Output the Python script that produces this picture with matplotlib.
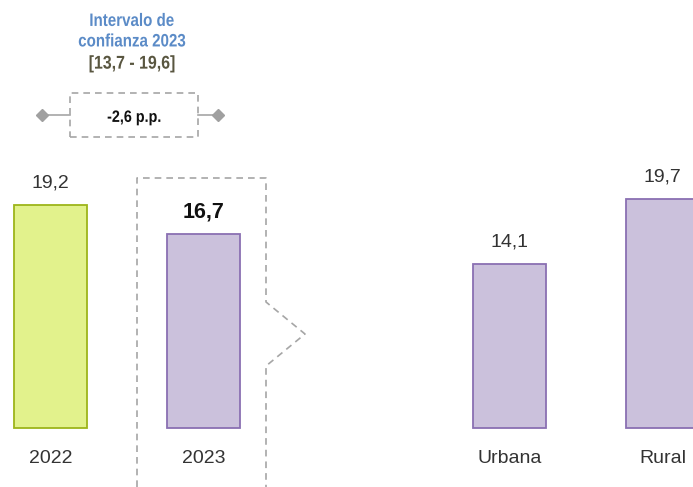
import numpy as np
import matplotlib
matplotlib.use('Agg')
import matplotlib.pyplot as plt
from matplotlib.lines import Line2D
from matplotlib.patches import Rectangle, PathPatch
from matplotlib.textpath import TextPath
from matplotlib.font_manager import FontProperties
from matplotlib.transforms import Affine2D

# data
categories = ['2022', '2023', 'Urbana', 'Rural']
values = [19.2, 16.7, 14.1, 19.7]
value_labels = ['19,2', '16,7', '14,1', '19,7']
positions = [0, 1, 3, 4]
interval_title = ['Intervalo de', 'confianza 2023']
interval_range = '[13,7 - 19,6]'
diff_label = '-2,6 p.p.'

plt.rcParams['font.family'] = ['Liberation Sans', 'DejaVu Sans']

W, H = 693, 487
fig = plt.figure(figsize=(W / 100, H / 100), dpi=100)
ax = fig.add_axes([0, 0, 1, 1])
ax.set_xlim(-0.33, 4.2)
ax.set_ylim(-5.09, 36.9)
ax.axis('off')

fills = ['#e2f28c', '#cbc1dc', '#cbc1dc', '#cbc1dc']
edges = ['#9db51a', '#8a70b2', '#8a70b2', '#8a70b2']
ax.bar(positions, values, width=0.477, color=fills, edgecolor=edges, linewidth=1.3)

for i, (p, v, lab) in enumerate(zip(positions, values, value_labels)):
    bold = (i == 1)
    ax.text(p, v + 1.9, lab, ha='center', va='center',
            fontsize=15.5 if bold else 14, fontweight='bold' if bold else 'normal',
            color='#111111' if bold else '#333333')
    ax.text(p, -2.6, categories[i], ha='center', va='center', fontsize=14, color='#333333')


def px(x, y):
    return x / W, 1 - y / H


def pline(xs, ys, **kw):
    fx = [x / W for x in xs]
    fy = [1 - y / H for y in ys]
    fig.add_artist(Line2D(fx, fy, transform=fig.transFigure, **kw))


def narrow_text(cx, cy, s, size_px, sx, color, weight='bold'):
    # condensed look: draw glyph outlines squeezed horizontally
    tp = TextPath((0, 0), s, size=size_px,
                  prop=FontProperties(family='Liberation Sans', weight=weight))
    ext = tp.get_extents()
    cap = 0.716 * size_px
    tr = (Affine2D().translate(-(ext.x0 + ext.x1) / 2, -cap / 2).scale(sx, 1)
          .translate(cx, H - cy).scale(1 / W, 1 / H) + fig.transFigure)
    fig.add_artist(PathPatch(tp, transform=tr, facecolor=color, edgecolor='none'))


dash = dict(color='#a6a6a6', linewidth=1.2, linestyle=(0, (4, 3)))
# dashed frame around 2023
pline([137, 137, 266, 266, 305, 266, 266], [487, 178, 178, 302, 334, 366, 487], **dash)

# top annotation
narrow_text(132, 19.5, interval_title[0], 18, 0.84, '#5b8bc7')
narrow_text(132, 40, interval_title[1], 18, 0.84, '#5b8bc7')
narrow_text(132, 62, interval_range, 18.5, 0.86, '#595640')

# difference box
fig.add_artist(Rectangle(px(70, 137), 128 / W, 44 / H, transform=fig.transFigure,
                         fill=False, edgecolor='#a6a6a6', linewidth=1.2, linestyle=(0, (4, 3))))
narrow_text(134, 116, diff_label, 16.5, 0.87, '#111111')
pline([42, 70], [115, 115], color='#a6a6a6', linewidth=1.2)
pline([198, 218], [115, 115], color='#a6a6a6', linewidth=1.2)
for xd in (42, 218):
    pline([xd], [115], marker='D', markersize=6, color='#a0a0a0', linestyle='none')

fig.savefig('out.png', dpi=100)
